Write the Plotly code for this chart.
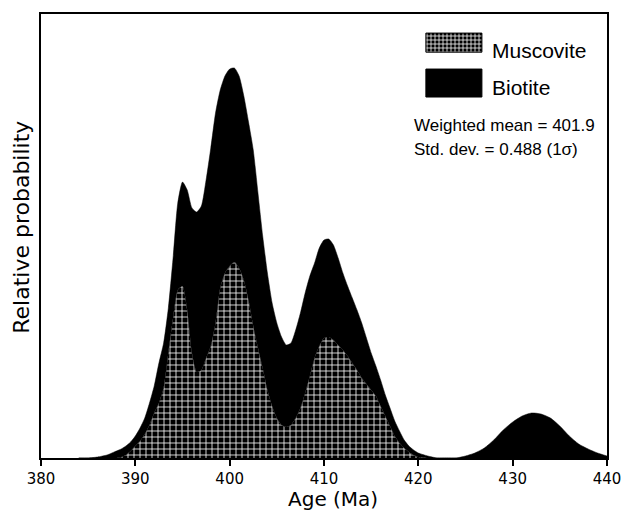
import plotly.graph_objects as go

# Age axis (Ma)
ages = [384, 385, 386, 387,
        388, 388.5, 389, 389.5, 390, 390.5, 391, 391.5, 392, 392.5, 393, 393.5,
        394, 394.5, 395, 395.5, 396, 396.5, 397, 397.5, 398, 398.5, 399, 399.5,
        400, 400.5, 401, 401.5, 402, 402.5, 403, 403.5, 404, 404.5, 405, 405.5,
        406, 406.5, 407, 407.5, 408, 408.5, 409, 409.5, 410, 410.5, 411, 411.5,
        412, 412.5, 413, 413.5, 414, 414.5, 415, 415.5, 416, 416.5, 417, 417.5,
        418, 418.5, 419, 419.5, 420,
        421, 422, 423, 424, 425, 426, 427, 428, 429, 430, 431, 432, 433, 434,
        435, 436, 437, 438, 439, 440]

# Relative probability (arbitrary units), stacked: muscovite below, biotite above
muscovite = [0, 0, 0, 0,
             0, 1, 3, 7, 12, 17, 24, 33, 45, 55, 70, 105,
             140, 168, 172, 148, 105, 86, 88, 100, 112, 135, 170, 185,
             192, 196, 190, 178, 158, 132, 110, 90, 68, 52, 40, 33,
             31, 33, 40, 50, 65, 82, 100, 112, 120, 121, 118, 113,
             108, 102, 95, 88, 80, 74, 68, 62, 52, 42, 32, 22,
             15, 10, 6, 3, 1,
             0, 0, 0, 0, 0, 0, 0, 0, 0, 0, 0, 0, 0, 0,
             0, 0, 0, 0, 0, 0]
biotite = [0, 0, 1, 3,
           7, 8, 9, 9, 10, 13, 16, 22, 27, 40, 45, 45,
           60, 87, 104, 120, 145, 160, 164, 178, 198, 210, 198, 197,
           197, 194, 192, 184, 178, 176, 155, 132, 117, 103, 95, 88,
           82, 82, 88, 95, 100, 100, 95, 98, 98, 98, 95, 87,
           77, 70, 65, 60, 55, 46, 37, 30, 26, 21, 18, 15,
           12, 8, 6, 5, 4,
           2, 0, 0, 0, 2, 5, 10, 18, 28, 36, 42, 45, 44, 40,
           32, 22, 14, 9, 5, 2]

tick_vals = [380, 390, 400, 410, 420, 430, 440]
series_names = ["Muscovite", "Biotite"]
x_title = "Age (Ma)"
y_title = "Relative probability"
stats_lines = ["Weighted mean = 401.9", "Std. dev. = 0.488 (1σ)"]

sans = "Liberation Sans, Arial, sans-serif"
axis_font = "DejaVu Sans, sans-serif"

grid_pattern = dict(shape="+", bgcolor="black", fgcolor="white", size=6,
                    solidity=0.25, fillmode="replace")

fig = go.Figure()
fig.add_trace(go.Scatter(
    x=ages, y=muscovite, name=series_names[0], stackgroup="one", showlegend=False,
    mode="lines", line=dict(width=0.5, color="black", shape="spline", smoothing=0.6),
    fillcolor="black", fillpattern=grid_pattern,
))
fig.add_trace(go.Scatter(
    x=ages, y=biotite, name=series_names[1], stackgroup="one", showlegend=False,
    mode="lines", line=dict(width=0.5, color="black", shape="spline", smoothing=0.6),
    fillcolor="black",
))

# Legend swatches (drawn on an overlay axis spanning the plot area, 0..1)
sw_x0, sw_x1 = 0.680, 0.779
swatch_rows = [(0.914, 0.957), (0.813, 0.876)]
label_y = [0.917, 0.834]
for i, (y0, y1) in enumerate(swatch_rows):
    kw = dict(fillpattern=dict(shape="+", bgcolor="black", fgcolor="white", size=4,
                               solidity=0.35, fillmode="replace")) if i == 0 else {}
    fig.add_trace(go.Scatter(
        x=[sw_x0, sw_x1, sw_x1, sw_x0, sw_x0], y=[y0, y0, y1, y1, y0],
        xaxis="x2", yaxis="y2", fill="toself", fillcolor="black", mode="lines",
        line=dict(color="black", width=1), showlegend=False, hoverinfo="skip", **kw))
    fig.add_annotation(x=0.793, y=label_y[i], xref="paper", yref="paper",
                       text=series_names[i], showarrow=False, xanchor="left",
                       yanchor="middle", font=dict(size=21, family=sans))

for i, txt in enumerate(stats_lines):
    fig.add_annotation(x=0.655, y=0.748 - i * 0.053, xref="paper", yref="paper",
                       text=txt, showarrow=False, xanchor="left", yanchor="middle",
                       font=dict(size=17, family=sans))

# Axis titles
fig.add_annotation(x=0.516, y=-0.093, xref="paper", yref="paper", text=x_title,
                   showarrow=False, xanchor="center", yanchor="middle",
                   font=dict(size=20, family=axis_font))
fig.add_annotation(x=-0.036, y=0.52, xref="paper", yref="paper", text=y_title,
                   showarrow=False, xanchor="center", yanchor="middle", textangle=-90,
                   font=dict(size=22, family=axis_font))

fig.update_layout(
    width=622, height=511,
    margin=dict(l=41, r=15, t=14, b=53, autoexpand=False),
    paper_bgcolor="white", plot_bgcolor="white",
    font=dict(family=axis_font, color="black"),
    showlegend=False,
    hovermode=False,
    xaxis=dict(range=[380, 440], tickvals=tick_vals, ticks="outside", ticklen=6,
               tickwidth=1.5, tickcolor="black", showline=True, linecolor="black",
               linewidth=1.5, mirror=True, showgrid=False, zeroline=False,
               automargin=False, ticklabeloverflow="allow",
               tickfont=dict(size=15, family=axis_font)),
    yaxis=dict(range=[0, 444], showticklabels=False, ticks="", showline=True,
               linecolor="black", linewidth=1.5, mirror=True, showgrid=False,
               zeroline=False, automargin=False),
    xaxis2=dict(overlaying="x", range=[0, 1], visible=False, fixedrange=True),
    yaxis2=dict(overlaying="y", range=[0, 1], visible=False, fixedrange=True),
)

# Remove the default page margin so the 622x511 figure fills the window exactly.
fig.write_html("out.html",
               config={"displayModeBar": False},
               post_script="document.body.style.margin='0';"
                           "document.body.style.overflow='hidden';")
